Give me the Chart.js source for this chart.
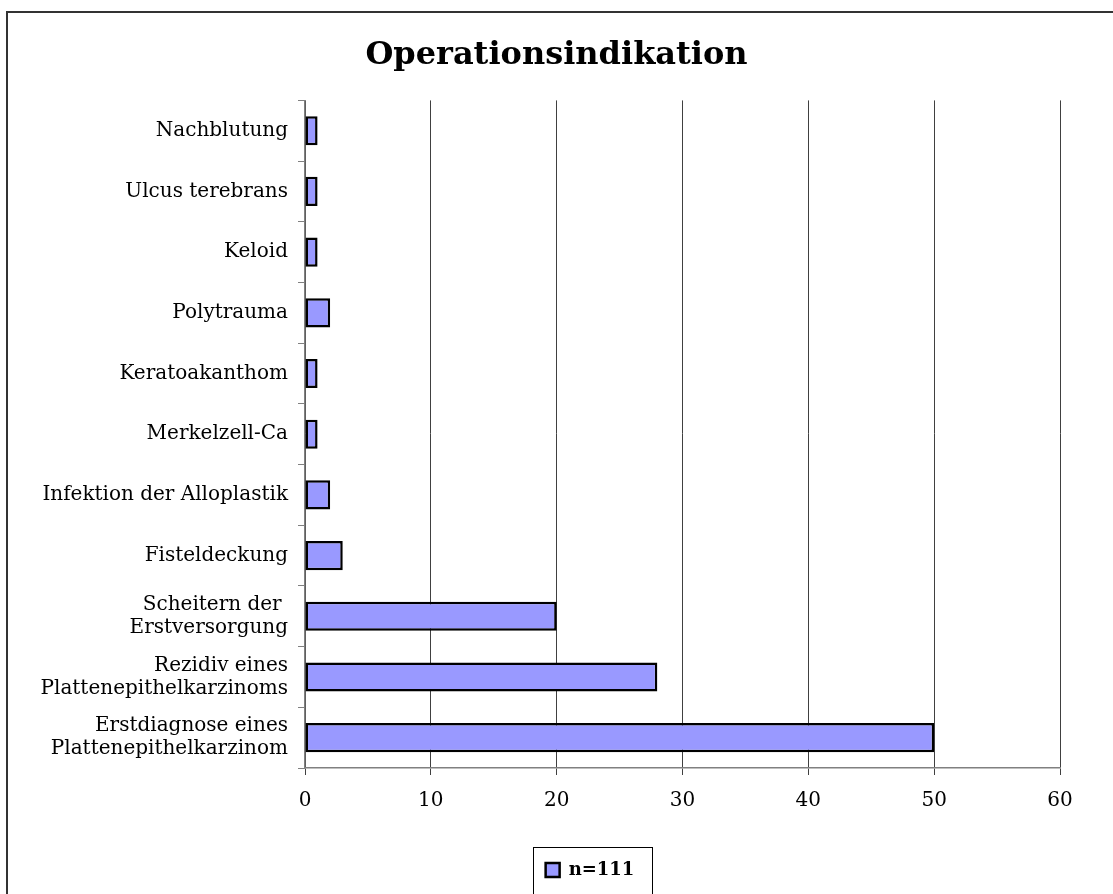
<!DOCTYPE html>
<html>
<head>
<meta charset="utf-8">
<script src="https://cdn.jsdelivr.net/npm/chart.js@4"></script>
<style>
  html, body { margin: 0; padding: 0; background: #fff; }
  #wrap { width: 1113px; height: 894px; }
</style>
</head>
<body>
<div id="wrap"><canvas id="indikationChart" width="1113" height="894"></canvas></div>
<script>
// categories (top to bottom)
const categories = [
  "Nachblutung",
  "Ulcus terebrans",
  "Keloid",
  "Polytrauma",
  "Keratoakanthom",
  "Merkelzell-Ca",
  "Infektion der Alloplastik",
  "Fisteldeckung",
  ["Scheitern der ", "Erstversorgung"],
  ["Rezidiv eines", "Plattenepithelkarzinoms"],
  ["Erstdiagnose eines", "Plattenepithelkarzinom"]
];
const counts = [1, 1, 1, 2, 1, 1, 2, 3, 20, 28, 50];
const xTicks = [0, 10, 20, 30, 40, 50, 60];
const seriesName = "n=111";

const serif = "'DejaVu Serif', 'Liberation Serif', serif";

// title over the full width, legend a bit to the right as in the original
const placePlugin = {
  id: 'place',
  afterLayout(chart) {
    const t = chart.titleBlock;
    if (t) { t.left = 0; t.right = chart.width; t.width = chart.width; }
    const lg = chart.legend;
    if (lg) { lg.left += 60; lg.right += 60; lg.top += 3; lg.bottom += 3; }
  }
};

// frame around the whole chart + box around the legend
const framePlugin = {
  id: 'frame',
  afterDraw(chart) {
    const ctx = chart.ctx;
    ctx.save();
    ctx.strokeStyle = '#333';
    ctx.lineWidth = 2;
    ctx.beginPath();
    ctx.moveTo(7, chart.height);
    ctx.lineTo(7, 12);
    ctx.lineTo(chart.width, 12);
    ctx.stroke();

    const hb = chart.legend.legendHitBoxes[0];
    if (hb) {
      ctx.strokeStyle = '#000';
      ctx.lineWidth = 1;
      ctx.strokeRect(Math.round(hb.left) - 12.5, Math.round(hb.top) - 13.5,
        Math.round(hb.width) + 30, Math.round(hb.height) + 40);
    }
    ctx.restore();
  }
};

new Chart("indikationChart", {
  type: "bar",
  data: {
    labels: categories,
    datasets: [{
      label: seriesName,
      data: counts,
      backgroundColor: "#9999ff",
      borderColor: "#000",
      borderWidth: 2.5,
      borderSkipped: false,
      categoryPercentage: 1.0,
      barPercentage: 0.48
    }]
  },
  options: {
    indexAxis: 'y',
    responsive: false,
    animation: false,
    layout: { padding: { left: 0, right: 53, top: 20, bottom: 8 } },
    plugins: {
      title: {
        display: true,
        text: "Operationsindikation",
        color: '#000',
        font: { family: serif, size: 32, weight: 'bold' },
        padding: { top: 16, bottom: 26 }
      },
      legend: {
        display: true,
        position: 'bottom',
        labels: {
          color: '#000',
          boxWidth: 14,
          boxHeight: 14,
          padding: 10,
          font: { family: serif, size: 18, weight: 'bold' }
        }
      },
      tooltip: { enabled: false }
    },
    scales: {
      x: {
        min: 0,
        max: 60,
        afterBuildTicks(scale) { scale.ticks = xTicks.map(v => ({ value: v })); },
        afterFit(scale) { scale.height = 80; },
        border: { color: '#808080', width: 1.5 },
        grid: { color: '#404040', lineWidth: 1, tickLength: 7, tickColor: '#404040' },
        ticks: { color: '#000', padding: 14, font: { family: serif, size: 20 } }
      },
      y: {
        afterFit(scale) { scale.width = 305; },
        border: { color: '#808080', width: 1.5 },
        grid: { offset: true, drawOnChartArea: false, tickLength: 7, color: '#808080' },
        ticks: { color: '#000', padding: 10, font: { family: serif, size: 20, lineHeight: 1.15 } }
      }
    }
  },
  plugins: [placePlugin, framePlugin]
});
</script>
</body>
</html>
